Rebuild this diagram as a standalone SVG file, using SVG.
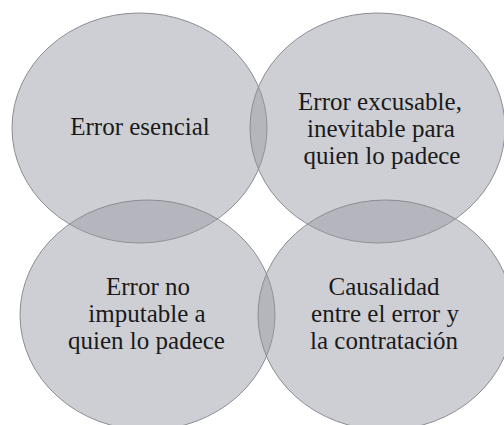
<svg xmlns="http://www.w3.org/2000/svg" width="504" height="425" viewBox="0 0 504 425">
  <style>
    .c { fill: rgb(150,154,164); fill-opacity: 0.47; stroke: #8a8d93; stroke-width: 1; }
    .t { font-family: "Liberation Serif", "Times New Roman", serif; font-size: 25px; fill: #1a1a1a; text-anchor: middle; }
  </style>
  <rect width="504" height="425" fill="#ffffff"/>
  <g id="node-error-esencial">
    <ellipse class="c" cx="139.5" cy="128" rx="127.5" ry="115"/>
    <text class="t" x="140" y="135">Error esencial</text>
  </g>
  <g id="node-error-excusable">
    <ellipse class="c" cx="377.5" cy="128" rx="127.5" ry="115"/>
    <text class="t" x="380" y="110">Error excusable,</text>
    <text class="t" x="381" y="137">inevitable para</text>
    <text class="t" x="382" y="164">quien lo padece</text>
  </g>
  <g id="node-error-no-imputable">
    <ellipse class="c" cx="147.5" cy="315" rx="127.5" ry="115"/>
    <text class="t" x="148" y="295">Error no</text>
    <text class="t" x="147" y="322">imputable a</text>
    <text class="t" x="146.5" y="349">quien lo padece</text>
  </g>
  <g id="node-causalidad">
    <ellipse class="c" cx="385.5" cy="315" rx="127.5" ry="115"/>
    <text class="t" x="384" y="295">Causalidad</text>
    <text class="t" x="385" y="322">entre el error y</text>
    <text class="t" x="384" y="349">la contratación</text>
  </g>
  <g id="connectors"/>
</svg>
